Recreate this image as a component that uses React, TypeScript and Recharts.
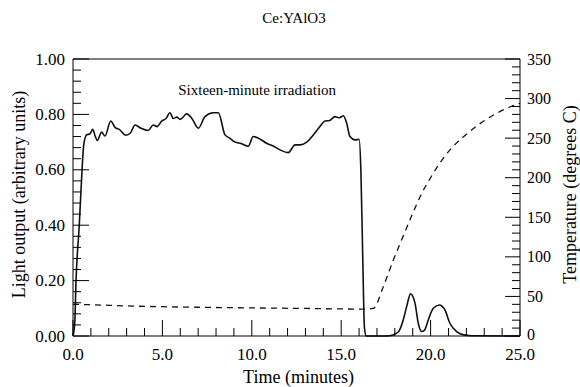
import React from 'react';
import { LineChart, Line, XAxis, YAxis, ReferenceLine, ReferenceDot } from 'recharts';

// light output (arbitrary units) vs time (minutes)
const lightTime = [
  0, 0.1, 0.17, 0.35, 0.49, 0.6, 0.76, 0.95, 1.1, 1.25, 1.36, 1.6, 1.79, 2.11, 2.35, 2.6, 2.96, 3.2, 3.47,
  3.8, 4.21, 4.49, 4.7, 4.96, 5.2, 5.42, 5.61, 5.8, 6.0, 6.36, 6.65, 7.01, 7.38, 7.85, 8.13, 8.5, 8.75,
  9.06, 9.4, 9.8, 10.08, 10.4, 10.83, 11.2, 11.58, 12.04, 12.42, 12.7, 13.07, 13.44, 13.81, 14.09, 14.35,
  14.65, 14.9, 15.12, 15.3, 15.49, 15.77, 16.0, 16.1, 16.2, 16.3, 16.4, 17.5, 17.9, 18.2, 18.47, 18.66,
  18.88, 19.13, 19.31, 19.5, 19.65, 19.87, 20.15, 20.49, 20.8, 21.08, 21.46, 21.8, 22.3, 25,
];
const lightValue = [
  0, 0.05, 0.2, 0.4, 0.58, 0.69, 0.726, 0.73, 0.746, 0.72, 0.706, 0.736, 0.722, 0.776, 0.753, 0.745, 0.725,
  0.732, 0.762, 0.75, 0.742, 0.762, 0.756, 0.776, 0.785, 0.806, 0.785, 0.79, 0.782, 0.802, 0.785, 0.75,
  0.792, 0.806, 0.806, 0.726, 0.715, 0.7, 0.695, 0.685, 0.72, 0.713, 0.696, 0.686, 0.672, 0.662, 0.69,
  0.69, 0.7, 0.726, 0.756, 0.776, 0.778, 0.792, 0.788, 0.795, 0.77, 0.72, 0.708, 0.71, 0.6, 0.3, 0.03,
  0, 0, 0.004, 0.015, 0.058, 0.106, 0.152, 0.118, 0.046, 0.016, 0.02, 0.058, 0.1, 0.112, 0.094, 0.046,
  0.016, 0.005, 0.001, 0,
];

// temperature (degrees C) vs time
const tempTime = [0, 1, 3, 5, 7, 10, 13, 16.3, 16.8, 17.35, 17.9, 18.5, 19.0, 19.5, 20.0, 20.5, 21.0, 21.5, 22.0, 22.5, 23.0, 23.5, 24.0, 24.5, 25];
const tempValue = [40, 39.5, 38, 37, 36.3, 35.5, 34.8, 34, 35, 62, 95, 128, 155, 180, 200, 218, 233, 245, 255, 264, 272, 279, 285, 290, 294];

const xTicks = Array.from({ length: 26 }, (_, i) => i);
const leftTicks = Array.from({ length: 26 }, (_, i) => i * 0.04);
const rightTicks = Array.from({ length: 36 }, (_, i) => i * 10);

const lightData = lightTime.map((t, i) => ({ t, v: lightValue[i] }));
const tempData = tempTime.map((t, i) => ({ t, T: tempValue[i] }));

const FONT = "'Liberation Serif', 'Times New Roman', Times, serif";

const BottomTick = ({ x, y, payload }: any) => {
  const major = payload.value % 5 === 0;
  return (
    <g>
      <line x1={x} x2={x} y1={y} y2={y - (major ? 16 : 8)} stroke="#000" />
      {major && (
        <text x={x} y={y + 18} textAnchor="middle" dominantBaseline="central" style={{ fontFamily: FONT }} fontSize={17} fill="#000">
          {payload.value.toFixed(1)}
        </text>
      )}
    </g>
  );
};

const LeftTick = ({ x, y, payload }: any) => {
  const v = payload.value;
  const major = Math.abs(v * 5 - Math.round(v * 5)) < 1e-6;
  return (
    <g>
      <line x1={x} x2={x + (major ? 16 : 8)} y1={y} y2={y} stroke="#000" />
      {major && (
        <text x={x - 8} y={y} textAnchor="end" dominantBaseline="central" style={{ fontFamily: FONT }} fontSize={17} fill="#000">
          {v.toFixed(2)}
        </text>
      )}
    </g>
  );
};

const RightTick = ({ x, y, payload }: any) => {
  const major = payload.value % 50 === 0;
  return (
    <g>
      <line x1={x} x2={x - (major ? 15 : 8)} y1={y} y2={y} stroke="#000" />
      {major && (
        <text x={x + 7} y={payload.value === 0 ? y - 2 : y} textAnchor="start" dominantBaseline="central" style={{ fontFamily: FONT }} fontSize={16} fill="#000">
          {payload.value}
        </text>
      )}
    </g>
  );
};

const App: React.FC = () => {
  return (
    <div style={{ position: 'absolute', left: 0, top: 0, width: 580, height: 387, background: '#fff', fontFamily: FONT }}>
      <div
        style={{
          position: 'absolute', left: 0, width: 580, top: 10, textAlign: 'center', paddingLeft: 8,
          fontFamily: FONT, fontSize: 15, color: '#000', boxSizing: 'border-box',
        }}
      >
        Ce:YAlO3
      </div>
      <LineChart width={580} height={387} data={lightData} margin={{ top: 59, right: 0, bottom: 0, left: 0 }} style={{ fontFamily: FONT }}>
        <XAxis
          dataKey="t"
          type="number"
          domain={[0, 25]}
          ticks={xTicks}
          interval={0}
          height={51}
          tickSize={0}
          tickMargin={0}
          tick={<BottomTick />}
          axisLine={{ stroke: '#000' }}
          label={{
            content: ({ viewBox }: any) => (
              <text x={viewBox.x + viewBox.width / 2 + 2} y={377} textAnchor="middle" dominantBaseline="central" style={{ fontFamily: FONT }} fontSize={18} fill="#000">
                Time (minutes)
              </text>
            ),
          }}
        />
        <YAxis
          yAxisId="left"
          orientation="left"
          type="number"
          domain={[0, 1]}
          ticks={leftTicks}
          interval={0}
          width={73}
          tickSize={0}
          tickMargin={0}
          tick={<LeftTick />}
          axisLine={{ stroke: '#000' }}
          label={{
            content: ({ viewBox }: any) => {
              const cx = 19;
              const cy = viewBox.y + viewBox.height / 2 - 3;
              return (
                <text x={cx} y={cy} transform={`rotate(-90, ${cx}, ${cy})`} textAnchor="middle" dominantBaseline="central" style={{ fontFamily: FONT }} fontSize={18} fill="#000">
                  Light output (arbitrary units)
                </text>
              );
            },
          }}
        />
        <YAxis
          yAxisId="right"
          orientation="right"
          type="number"
          domain={[0, 350]}
          ticks={rightTicks}
          interval={0}
          width={60}
          tickSize={0}
          tickMargin={0}
          tick={<RightTick />}
          axisLine={{ stroke: '#000' }}
          label={{
            content: ({ viewBox }: any) => {
              const cx = 570;
              const cy = viewBox.y + viewBox.height / 2 - 3;
              return (
                <text x={cx} y={cy} transform={`rotate(-90, ${cx}, ${cy})`} textAnchor="middle" dominantBaseline="central" style={{ fontFamily: FONT }} fontSize={18} fill="#000">
                  Temperature (degrees C)
                </text>
              );
            },
          }}
        />
        <ReferenceLine yAxisId="left" y={1} stroke="#000" />
        <ReferenceDot
          yAxisId="left"
          x={10.3}
          y={0.89}
          r={0}
          stroke="none"
          fill="none"
          label={{ value: 'Sixteen-minute irradiation', position: 'center', fill: '#000', fontSize: 15, style: { fontFamily: FONT } }}
        />
        <Line
          yAxisId="left"
          data={lightData}
          dataKey="v"
          type="monotone"
          stroke="#111"
          strokeWidth={1.6}
          dot={false}
          isAnimationActive={false}
        />
        <Line
          yAxisId="right"
          data={tempData}
          dataKey="T"
          type="monotone"
          stroke="#111"
          strokeWidth={1.3}
          strokeDasharray="6 5"
          dot={false}
          isAnimationActive={false}
        />
      </LineChart>
    </div>
  );
};

export default App;
